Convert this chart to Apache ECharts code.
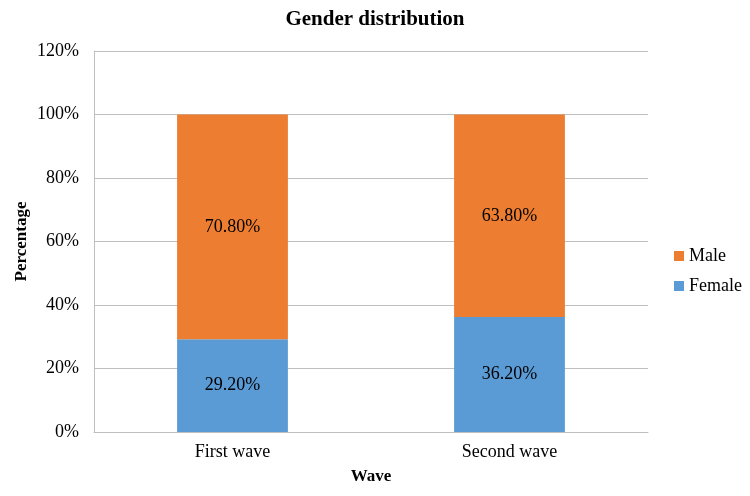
<!DOCTYPE html>
<html>
<head>
<meta charset="utf-8">
<script src="https://cdn.jsdelivr.net/npm/echarts@6/dist/echarts.min.js"></script>
<style>
  html, body { margin: 0; padding: 0; background: #fff; }
  #chart { width: 750px; height: 496px; }
</style>
</head>
<body>
<div id="chart"></div>
<script>
const categories = ['First wave', 'Second wave'];
const female = [29.2, 36.2];
const male = [70.8, 63.8];
const yTicks = [0, 20, 40, 60, 80, 100, 120];

const font = '"Liberation Serif", "Times New Roman", serif';
const chart = echarts.init(document.getElementById('chart'));

chart.setOption({
  animation: false,
  textStyle: { fontFamily: font },
  title: {
    text: 'Gender distribution',
    left: 'center',
    top: 4,
    textStyle: { fontFamily: font, fontSize: 21, fontWeight: 'bold', color: '#000' }
  },
  grid: { left: 94, right: 102, top: 51, bottom: 64 },
  legend: {
    orient: 'vertical',
    left: 669,
    top: 242,
    itemWidth: 10,
    itemHeight: 10,
    itemGap: 12,
    icon: 'rect',
    data: ['Male', 'Female'],
    textStyle: { fontFamily: font, fontSize: 18, color: '#000' }
  },
  xAxis: {
    type: 'category',
    data: categories,
    name: 'Wave',
    nameLocation: 'middle',
    nameGap: 36,
    nameTextStyle: { fontFamily: font, fontSize: 17, fontWeight: 'bold', color: '#000' },
    axisLine: { lineStyle: { color: '#bfbfbf' } },
    axisTick: { show: false },
    axisLabel: { fontFamily: font, fontSize: 18, color: '#000', margin: 11 }
  },
  yAxis: {
    type: 'value',
    min: yTicks[0],
    max: yTicks[yTicks.length - 1],
    interval: 20,
    name: 'Percentage',
    nameLocation: 'middle',
    nameGap: 64,
    nameMoveOverlap: false,
    nameTextStyle: { fontFamily: font, fontSize: 17, fontWeight: 'bold', color: '#000' },
    axisLine: { show: true, lineStyle: { color: '#bfbfbf' } },
    axisTick: { show: false },
    axisLabel: { fontFamily: font, fontSize: 18, color: '#000', margin: 15, formatter: '{value}%' },
    splitLine: { lineStyle: { color: '#bfbfbf' } }
  },
  series: [
    {
      name: 'Female',
      type: 'bar',
      stack: 'total',
      data: female,
      barWidth: '40%',
      itemStyle: { color: '#5b9bd5' },
      label: {
        show: true,
        position: 'inside',
        fontFamily: font,
        fontSize: 18,
        color: '#000',
        formatter: p => p.value.toFixed(2) + '%'
      }
    },
    {
      name: 'Male',
      type: 'bar',
      stack: 'total',
      data: male,
      barWidth: '40%',
      itemStyle: { color: '#ed7d31' },
      label: {
        show: true,
        position: 'inside',
        fontFamily: font,
        fontSize: 18,
        color: '#000',
        formatter: p => p.value.toFixed(2) + '%'
      }
    }
  ]
});
</script>
</body>
</html>
